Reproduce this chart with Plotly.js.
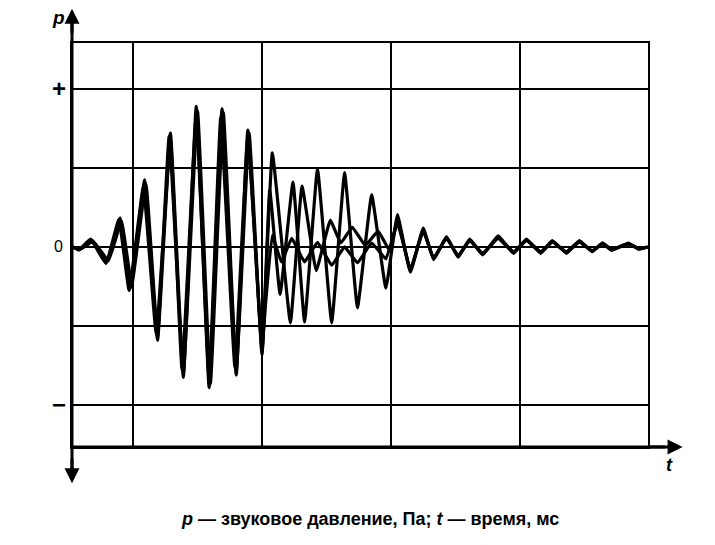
<!DOCTYPE html>
<html>
<head>
<meta charset="utf-8">
<script src="https://cdn.plot.ly/plotly-3.0.1.min.js"></script>
<style>html,body{margin:0;padding:0;background:#fff}#chart{width:715px;height:545px}</style>
</head>
<body>
<div id="chart"></div>
<script>
// time, ms (grid step 1 ms) and sound pressure (grid step 1 unit)
const t1 = [0.53,0.59,0.68,0.80,0.90,0.98,1.09,1.19,1.29,1.39,1.49,1.59,1.69,1.80,1.89,2.00,2.08,2.22,2.31,2.42,2.53,2.61,2.70,2.80,2.90,2.99,3.05,3.15,3.25,3.33,3.43,3.52,3.61,3.71,3.83,3.95,4.05,4.16,4.25,4.36,4.46,4.56,4.64,4.71,4.84,4.92,4.99];
const p1 = [0,-0.03,0.09,-0.19,0.37,-0.52,0.85,-1.18,1.44,-1.65,1.78,-1.78,1.75,-1.62,1.48,-1.33,1.19,-0.96,0.77,-0.30,0.34,0.05,0.25,0.02,0.20,-0.05,0.35,-0.30,0.22,-0.15,0.12,-0.12,0.09,-0.09,0.12,-0.06,0.09,-0.07,0.06,-0.06,0.07,-0.05,0.05,-0.03,0.04,-0.02,0];

const t2 = [0.53,0.60,0.69,0.81,0.91,0.99,1.10,1.19,1.28,1.39,1.50,1.60,1.70,1.80,1.90,2.00,2.06,2.14,2.24,2.33,2.43,2.54,2.64,2.74,2.85,2.96,3.05,3.15,3.25,3.33,3.43,3.52,3.61,3.71,3.83,3.95,4.05,4.16,4.25,4.36,4.46,4.56,4.64,4.71,4.84,4.92,4.99];
const p2 = [0,-0.02,0.07,-0.17,0.33,-0.48,0.80,-1.14,1.40,-1.60,1.72,-1.73,1.70,-1.58,1.44,-1.36,0.72,-0.60,0.82,-0.95,0.99,-0.96,0.94,-0.77,0.66,-0.52,0.41,-0.32,0.24,-0.16,0.13,-0.13,0.10,-0.10,0.14,-0.08,0.10,-0.08,0.08,-0.08,0.08,-0.06,0.05,-0.04,0.05,-0.03,0];

const t3 = [0.53,0.58,0.67,0.79,0.89,0.97,1.08,1.18,1.29,1.38,1.49,1.59,1.68,1.79,1.89,2.00,2.03,2.08,2.15,2.23,2.33,2.43,2.54,2.64,2.74,2.85,2.96,3.05,3.15,3.25,3.33,3.43,3.52,3.61,3.71,3.83,3.95,4.05,4.16,4.25,4.36,4.46,4.56,4.64,4.71,4.84,4.92,4.99];
const p3 = [0,-0.04,0.10,-0.21,0.35,-0.55,0.76,-1.10,1.36,-1.55,1.66,-1.68,1.64,-1.52,1.40,-1.28,-0.67,0.15,-0.19,0.11,-0.19,0.06,-0.23,0.00,-0.20,0.05,-0.15,0.30,-0.28,0.20,-0.14,0.11,-0.11,0.08,-0.08,0.11,-0.07,0.08,-0.06,0.07,-0.07,0.06,-0.05,0.04,-0.04,0.04,-0.02,0];

const xGrid = [1,2,3,4];
const yGrid = [-2,-1,0,1,2];
const yLabels = [{v:2,s:'+'},{v:0,s:'0'},{v:-2,s:'\u2212'}];

const lineStyle = {color:'#000', width:3.2, shape:'spline', smoothing:0.3};
const data = [
  {x:t1, y:p1, mode:'lines', line:lineStyle, hoverinfo:'skip'},
  {x:t2, y:p2, mode:'lines', line:lineStyle, hoverinfo:'skip'},
  {x:t3, y:p3, mode:'lines', line:lineStyle, hoverinfo:'skip'}
];

const F = 'Liberation Sans, Arial, sans-serif';
const annotations = [
  {xref:'paper', yref:'paper', x:0, y:1.085, ax:0, ay:26, showarrow:true, arrowhead:2, arrowsize:1, arrowwidth:3, arrowcolor:'#000', text:''},
  {xref:'paper', yref:'paper', x:0, y:-0.09, ax:0, ay:-26, showarrow:true, arrowhead:2, arrowsize:1, arrowwidth:3, arrowcolor:'#000', text:''},
  {xref:'paper', yref:'paper', x:1.06, y:0, ax:-36, ay:0, showarrow:true, arrowhead:2, arrowsize:1, arrowwidth:3, arrowcolor:'#000', text:''},
  {xref:'paper', yref:'paper', x:-0.024, y:1.064, xanchor:'center', yanchor:'middle', showarrow:false, text:'<b><i>p</i></b>', font:{family:F, size:19, color:'#000'}},
  {xref:'paper', yref:'paper', x:1.038, y:-0.045, xanchor:'center', yanchor:'middle', showarrow:false, text:'<b><i>t</i></b>', font:{family:F, size:18, color:'#000'}},
  {xref:'paper', yref:'paper', x:0.517, y:-0.178, xanchor:'center', yanchor:'middle', showarrow:false,
   text:'<b><i>p</i> \u2014 звуковое давление, Па; <i>t</i> \u2014 время, мс</b>', font:{family:F, size:18, color:'#000'}}
];
yLabels.forEach(l => annotations.push({xref:'paper', yref:'y', x:-0.023, y:l.v, xanchor:'center', yanchor:'middle', showarrow:false,
  text: l.s === '0' ? '0' : '<b>'+l.s+'</b>', font:{family:F, size: l.s === '0' ? 16 : 24, color:'#000'}}));

const layout = {
  width:715, height:545,
  margin:{l:72, r:67, t:43, b:98, pad:0},
  paper_bgcolor:'#fff', plot_bgcolor:'#fff',
  showlegend:false,
  xaxis:{range:[0.527,4.992], tickvals:xGrid, showticklabels:false, ticks:'', showgrid:true, gridcolor:'#000', gridwidth:2,
         zeroline:false, showline:true, mirror:true, linecolor:'#000', linewidth:2, fixedrange:true},
  yaxis:{range:[-2.532,2.582], tickvals:yGrid, showticklabels:false, ticks:'', showgrid:true, gridcolor:'#000', gridwidth:2,
         zeroline:false, showline:true, mirror:true, linecolor:'#000', linewidth:2, fixedrange:true},
  shapes:[
    {type:'line', xref:'paper', yref:'paper', x0:0, x1:0, y0:-0.06, y1:1.06, line:{color:'#000', width:3}},
    {type:'line', xref:'paper', yref:'paper', x0:0, x1:1.03, y0:0, y1:0, line:{color:'#000', width:3}}
  ],
  annotations:annotations
};
Plotly.newPlot('chart', data, layout, {staticPlot:true, displayModeBar:false});
</script>
</body>
</html>
